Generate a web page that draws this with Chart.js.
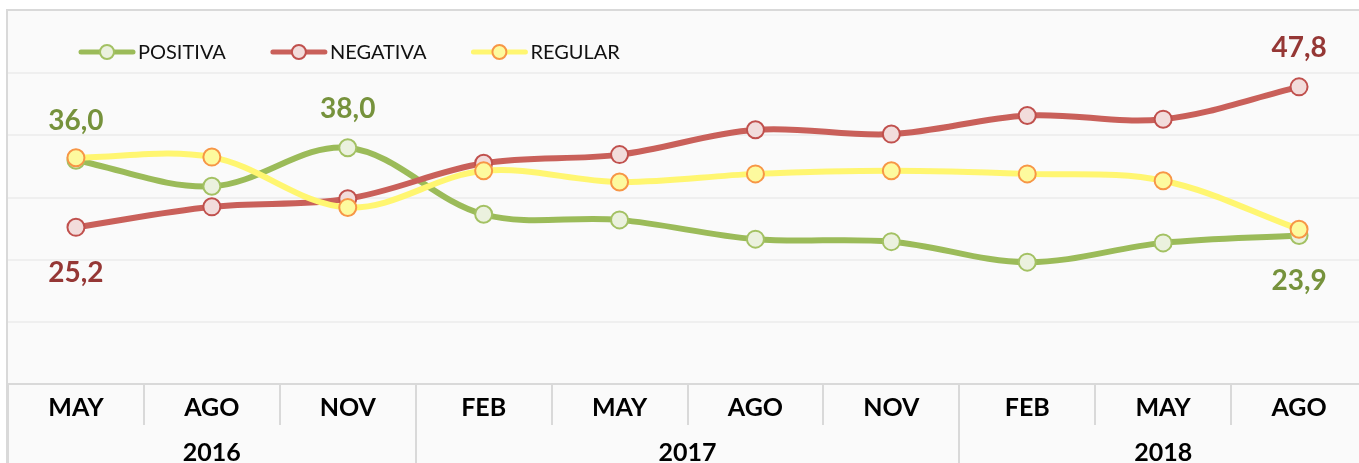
<!DOCTYPE html>
<html>
<head>
    <title>Opinión</title>
    <meta charset="utf-8">
    <style>
        html, body {
            margin: 0;
            background-color: #fff;
            overflow: hidden;
        }
        .frame {
            position: absolute;
            left: 6px;
            top: 9px;
            width: 1370px;
            height: 470px;
            border-left: 2px solid #d9d9d9;
            border-top: 2px solid #d9d9d9;
            background-color: #fafafa;
        }
        .chart-container {
            position: absolute;
            left: 0;
            top: 0;
            width: 1359px;
            height: 459px;
        }
    </style>
    <script src="https://cdn.jsdelivr.net/npm/chart.js"></script>
</head>
<body>
    <div class="frame">
        <div class="chart-container">
            <canvas id="opinionChart"></canvas>
        </div>
    </div>

    <script>
        // data
        const months = ['MAY', 'AGO', 'NOV', 'FEB', 'MAY', 'AGO', 'NOV', 'FEB', 'MAY', 'AGO'];
        const years = ['2016', '2017', '2018'];
        const yearCenters = [1, 4.5, 8];       // middle of each year group (category index)
        const yearBreaks = [-0.5, 2.5, 6.5, 9.5];

        const positiva = [36.0, 31.8, 38.0, 27.3, 26.4, 23.3, 22.9, 19.6, 22.7, 23.9];
        const negativa = [25.2, 28.5, 29.8, 35.5, 36.9, 40.9, 40.2, 43.2, 42.6, 47.8];
        const regular  = [36.4, 36.5, 28.4, 34.3, 32.5, 33.8, 34.3, 33.8, 32.7, 24.9];

        // which points get a value label: [dataset, index, side]
        const valueLabels = [[0, 0, 'up'], [0, 2, 'up'], [0, 9, 'down'], [1, 0, 'down'], [1, 9, 'up']];
        const labelColors = ['#76923c', '#953735', '#c09000'];

        const FONT = 'Lato';

        // legend drawn as line + marker like the original
        const lineLegend = {
            id: 'lineLegend',
            afterDraw(chart) {
                const ctx = chart.ctx;
                let x = chart.chartArea.left + 71;
                const y = chart.chartArea.top + 41;
                ctx.save();
                ctx.font = '20px ' + FONT;
                ctx.textBaseline = 'middle';
                chart.data.datasets.forEach(ds => {
                    ctx.strokeStyle = ds.borderColor;
                    ctx.lineWidth = 5;
                    ctx.lineCap = 'round';
                    ctx.beginPath();
                    ctx.moveTo(x + 2, y);
                    ctx.lineTo(x + 54, y);
                    ctx.stroke();
                    ctx.beginPath();
                    ctx.arc(x + 28, y, 7, 0, Math.PI * 2);
                    ctx.fillStyle = ds.pointBackgroundColor;
                    ctx.fill();
                    ctx.lineWidth = 2;
                    ctx.strokeStyle = ds.pointBorderColor;
                    ctx.stroke();
                    ctx.fillStyle = '#111';
                    ctx.fillText(ds.label, x + 59, y + 1);
                    x += 59 + ctx.measureText(ds.label).width + 45;
                });
                ctx.restore();
            }
        };

        const pointValues = {
            id: 'pointValues',
            afterDatasetsDraw(chart) {
                const ctx = chart.ctx;
                ctx.save();
                ctx.font = 'bold 28px ' + FONT;
                ctx.textAlign = 'center';
                ctx.textBaseline = 'middle';
                valueLabels.forEach(([d, i, side]) => {
                    const pt = chart.getDatasetMeta(d).data[i];
                    const v = chart.data.datasets[d].data[i];
                    ctx.fillStyle = labelColors[d];
                    const dy = side === 'up' ? -39 : 46;
                    ctx.fillText(v.toFixed(1).replace('.', ','), pt.x, pt.y + dy);
                });
                ctx.restore();
            }
        };

        const axisFont = { family: FONT, size: 25, weight: 'bold' };

        new Chart(document.getElementById('opinionChart'), {
            type: 'line',
            data: {
                labels: months,
                datasets: [
                    {
                        label: 'POSITIVA',
                        data: positiva,
                        borderColor: '#9bbb59',
                        pointBackgroundColor: '#ebf1de',
                        pointBorderColor: '#a3c163',
                        order: 3
                    },
                    {
                        label: 'NEGATIVA',
                        data: negativa,
                        borderColor: '#c9605a',
                        pointBackgroundColor: '#f2dcdb',
                        pointBorderColor: '#c0504d',
                        order: 2
                    },
                    {
                        label: 'REGULAR',
                        data: regular,
                        borderColor: '#fff671',
                        pointBackgroundColor: '#fdfa9e',
                        pointBorderColor: '#f79646',
                        order: 1
                    }
                ]
            },
            options: {
                maintainAspectRatio: false,
                animation: false,
                layout: { padding: 0, autoPadding: false },
                elements: {
                    line: { borderWidth: 6, tension: 0.35, fill: false },
                    point: { radius: 8.5, borderWidth: 2 }
                },
                plugins: {
                    legend: { display: false },
                    tooltip: { enabled: false }
                },
                scales: {
                    y: {
                        min: 0,
                        max: 60,
                        ticks: { display: false, stepSize: 10 },
                        border: { display: false },
                        grid: {
                            drawTicks: false,
                            lineWidth: 2,
                            color: c => (c.tick.value === 0 || c.tick.value === 60) ? 'rgba(0,0,0,0)' : '#efefef'
                        }
                    },
                    x: {
                        type: 'category',
                        offset: true,
                        weight: 0,
                        afterFit: ax => { ax.height = 41; },
                        border: { color: '#d9d9d9', width: 2 },
                        grid: { offset: true, drawOnChartArea: false, tickLength: 41, lineWidth: 2, color: '#d9d9d9' },
                        ticks: { padding: -32, autoSkip: false, maxRotation: 0, color: '#000', font: axisFont }
                    },
                    year: {
                        type: 'linear',
                        position: 'bottom',
                        weight: 1,
                        min: -0.5,
                        max: 9.5,
                        afterFit: ax => { ax.height = 45; },
                        afterBuildTicks: ax => {
                            ax.ticks = yearBreaks.concat(yearCenters).sort((a, b) => a - b).map(v => ({ value: v }));
                        },
                        border: { display: false },
                        grid: {
                            drawOnChartArea: false,
                            tickLength: 41,
                            lineWidth: 2,
                            color: c => (c.tick && yearBreaks.includes(c.tick.value)) ? '#d9d9d9' : 'rgba(0,0,0,0)'
                        },
                        ticks: {
                            padding: -28,
                            autoSkip: false,
                            maxRotation: 0,
                            color: '#000',
                            font: axisFont,
                            callback: v => {
                                const i = yearCenters.indexOf(v);
                                return i >= 0 ? years[i] : '';
                            }
                        }
                    }
                }
            },
            plugins: [lineLegend, pointValues]
        });
    </script>
</body>
</html>
